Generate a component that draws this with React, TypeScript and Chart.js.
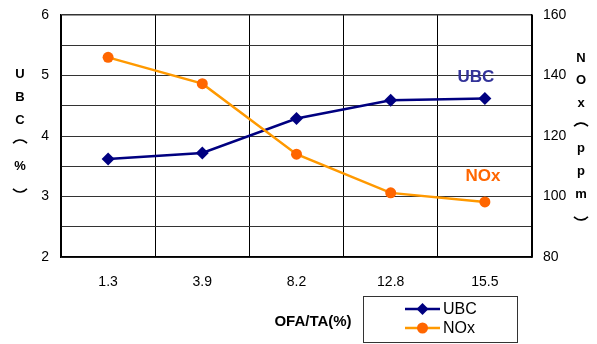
import React, { useEffect, useRef } from 'react';
import { Chart, registerables } from 'chart.js';
Chart.register(...registerables);

const categories = ['1.3', '3.9', '8.2', '12.8', '15.5'];
const ubcValues = [3.62, 3.72, 4.29, 4.59, 4.62];
const noxValues = [146, 137.3, 114, 101.2, 98.2];
const leftTitle = ['U', 'B', 'C', '(', '%', ')'];
const rightTitle = ['N', 'O', 'x', '(', 'p', 'p', 'm', ')'];
const xTitle = 'OFA/TA(%)';
const seriesNames = ['UBC', 'NOx'];

const FONT = '"Liberation Sans", Arial, sans-serif';
const NAVY = '#000080';
const ORANGE_LINE = '#FF9900';
const ORANGE_PT = '#FF6600';

const drawStack = (ctx: CanvasRenderingContext2D, chars: string[], x: number, y0: number, step: number) => {
  chars.forEach((c, i) => {
    const y = y0 + i * step;
    if (c === '(' || c === ')') {
      ctx.save();
      ctx.strokeStyle = '#000';
      ctx.lineWidth = 1.6;
      ctx.beginPath();
      const r = 9;
      if (c === '(') {
        ctx.arc(x, y + r - 3, r, Math.PI * 1.22, Math.PI * 1.78);
      } else {
        ctx.arc(x, y - r + 3, r, Math.PI * 0.22, Math.PI * 0.78);
      }
      ctx.stroke();
      ctx.restore();
    } else {
      ctx.fillText(c, x, y);
    }
  });
};

const textPlugin = {
  id: 'textPlugin',
  afterDraw(chart: any) {
    const ctx = chart.ctx as CanvasRenderingContext2D;
    const xs = chart.scales.x;
    const y = chart.scales.y;
    const y1 = chart.scales.y1;
    ctx.save();
    ctx.fillStyle = '#000';
    ctx.textAlign = 'center';
    ctx.textBaseline = 'middle';
    ctx.font = `bold 13px ${FONT}`;
    drawStack(ctx, leftTitle, 20, 74, 23);
    drawStack(ctx, rightTitle, 581, 58, 22.7);
    ctx.font = `bold 15px ${FONT}`;
    ctx.fillText(xTitle, 313, 322);

    ctx.font = `bold 17px ${FONT}`;
    ctx.fillStyle = '#333399';
    ctx.fillText(seriesNames[0], xs.getPixelForValue(4) - 9, y.getPixelForValue(4.97));
    ctx.fillStyle = ORANGE_PT;
    ctx.fillText(seriesNames[1], xs.getPixelForValue(4) - 2, y1.getPixelForValue(106.7));

    const lx = 363, ly = 296, lw = 154, lh = 46;
    ctx.fillStyle = '#fff';
    ctx.fillRect(lx, ly, lw, lh);
    ctx.strokeStyle = '#333';
    ctx.lineWidth = 1;
    ctx.strokeRect(lx + 0.5, ly + 0.5, lw, lh);
    const rows = [
      { name: seriesNames[0], line: NAVY, pt: NAVY, style: 'diamond', yy: 309 },
      { name: seriesNames[1], line: ORANGE_LINE, pt: ORANGE_PT, style: 'circle', yy: 328 },
    ];
    rows.forEach((r) => {
      ctx.strokeStyle = r.line;
      ctx.lineWidth = 2.5;
      ctx.beginPath();
      ctx.moveTo(405, r.yy);
      ctx.lineTo(440, r.yy);
      ctx.stroke();
      ctx.fillStyle = r.pt;
      ctx.beginPath();
      const cx = 422.5;
      if (r.style === 'diamond') {
        ctx.moveTo(cx, r.yy - 6);
        ctx.lineTo(cx + 6, r.yy);
        ctx.lineTo(cx, r.yy + 6);
        ctx.lineTo(cx - 6, r.yy);
        ctx.closePath();
      } else {
        ctx.arc(cx, r.yy, 5.5, 0, Math.PI * 2);
      }
      ctx.fill();
      ctx.fillStyle = '#000';
      ctx.textAlign = 'left';
      ctx.font = `16px ${FONT}`;
      ctx.fillText(r.name, 443, r.yy + 1);
    });
    ctx.restore();
  },
};

const fitY = (w: number) => (s: any) => {
  s.width = w;
  s.paddingTop = 0;
  s.paddingBottom = 0;
};

export default function App() {
  const ref = useRef<HTMLCanvasElement | null>(null);
  useEffect(() => {
    if (!ref.current) return;
    const chart = new Chart(ref.current, {
      type: 'line',
      data: {
        labels: categories,
        datasets: [
          {
            label: seriesNames[0],
            data: ubcValues,
            yAxisID: 'y',
            borderColor: NAVY,
            backgroundColor: NAVY,
            borderWidth: 2.5,
            pointStyle: 'rectRot',
            pointRadius: 6.5,
            pointBorderWidth: 0,
            order: 1,
          },
          {
            label: seriesNames[1],
            data: noxValues,
            yAxisID: 'y1',
            borderColor: ORANGE_LINE,
            backgroundColor: ORANGE_PT,
            pointBackgroundColor: ORANGE_PT,
            pointBorderColor: ORANGE_PT,
            borderWidth: 2.5,
            pointStyle: 'circle',
            pointRadius: 5.5,
            pointBorderWidth: 0,
            order: 0,
          },
        ],
      },
      options: {
        animation: false,
        responsive: true,
        maintainAspectRatio: false,
        layout: { padding: { top: 15, left: 0, right: 0, bottom: 0 } },
        plugins: { legend: { display: false }, tooltip: { enabled: false } },
        scales: {
          x: {
            type: 'category',
            offset: true,
            grid: { offset: true, color: '#000', lineWidth: 1, drawTicks: false },
            border: { color: '#000', width: 1.5 },
            ticks: { color: '#000', font: { family: FONT, size: 14 }, padding: 17, maxRotation: 0 },
            afterFit: (s: any) => { s.height = 87; s.paddingLeft = 0; s.paddingRight = 0; },
          },
          y: {
            position: 'left',
            min: 2,
            max: 6,
            grid: {
              color: '#333',
              lineWidth: (c: any) => (c.tick && c.tick.value === 6 ? 1.5 : 1),
              drawTicks: false,
            },
            border: { color: '#000', width: 1.5 },
            ticks: {
              stepSize: 0.5,
              color: '#000',
              font: { family: FONT, size: 14 },
              padding: 12,
              callback: (v: any) => (Number.isInteger(v) ? String(v) : ''),
            },
            afterFit: fitY(61),
          },
          y1: {
            position: 'right',
            min: 80,
            max: 160,
            grid: { drawOnChartArea: false, drawTicks: false },
            border: { color: '#000', width: 1.5 },
            ticks: { stepSize: 20, color: '#000', font: { family: FONT, size: 14 }, padding: 11 },
            afterFit: fitY(65),
          },
        },
      },
      plugins: [textPlugin],
    });
    return () => chart.destroy();
  }, []);
  return (
    <div style={{ position: 'fixed', left: 0, top: 0, width: 597, height: 344, background: '#fff' }}>
      <canvas ref={ref} />
    </div>
  );
}
